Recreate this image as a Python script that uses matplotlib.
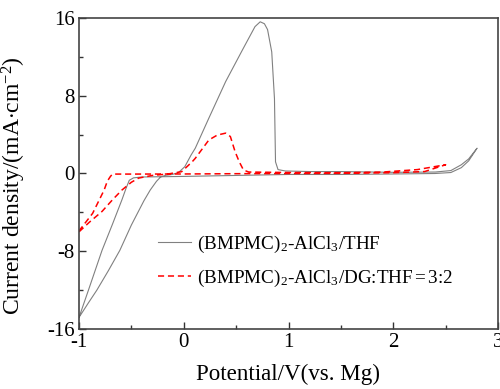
import matplotlib
matplotlib.use("Agg")
import matplotlib.pyplot as plt
from matplotlib.ticker import MultipleLocator

plt.rcParams['font.family'] = ['Liberation Serif', 'DejaVu Serif']
plt.rcParams['mathtext.fontset'] = 'custom'
plt.rcParams['mathtext.rm'] = 'Liberation Serif'
plt.rcParams['mathtext.it'] = 'Liberation Serif:italic'
plt.rcParams['axes.unicode_minus'] = False

# CV loop, (BMPMC)2-AlCl3/THF : forward sweep then back
thf_x = [-1.0, -0.91, -0.83, -0.72, -0.61, -0.50, -0.38, -0.32, -0.26, -0.22,
         -0.17, -0.11, -0.05, 0.01, 0.07, 0.11, 0.24, 0.40, 0.56, 0.68,
         0.73, 0.77, 0.80, 0.84, 0.866, 0.876, 0.90, 0.97, 1.2, 1.5,
         2.0, 2.4, 2.55, 2.65, 2.72, 2.8,
         2.72, 2.65, 2.55, 2.4, 2.0, 1.5, 1.0, 0.5, 0.0, -0.4,
         -0.48, -0.52, -0.55, -0.59, -0.68, -0.78, -0.91, -1.0]
thf_y = [-14.8, -13.3, -12.0, -10.0, -7.9, -5.3, -2.8, -1.7, -0.8, -0.35,
         -0.18, -0.1, 0.1, 0.7, 1.9, 2.6, 5.7, 9.45, 12.7, 15.1,
         15.6, 15.4, 14.8, 12.5, 7.7, 1.2, 0.4, 0.26, 0.2, 0.2,
         0.12, 0.15, 0.3, 0.9, 1.5, 2.6,
         1.3, 0.6, 0.1, 0.0, -0.05, -0.1, -0.1, -0.2, -0.3, -0.36,
         -0.45, -0.7, -1.5, -2.7, -5.2, -7.9, -12.0, -14.8]

# CV loop, (BMPMC)2-AlCl3/DG:THF = 3:2
dg_x = [-1.0, -0.9, -0.78, -0.68, -0.59, -0.5, -0.43, -0.3, -0.15, -0.02,
        0.08, 0.11, 0.24, 0.32, 0.40, 0.445, 0.49, 0.53, 0.57, 0.62,
        1.0, 1.5, 1.9, 2.23, 2.5,
        2.3, 2.0, 1.5, 1.0, 0.5, 0.0, -0.5, -0.68,
        -0.70, -0.73, -0.76, -0.87, -1.0]
dg_y = [-6.0, -5.0, -3.9, -2.7, -1.7, -0.9, -0.47, -0.2, -0.05, 0.19,
        1.2, 1.56, 3.45, 3.95, 4.15, 3.8, 2.25, 1.2, 0.36, 0.15,
        0.1, 0.08, 0.15, 0.4, 0.9,
        0.2, 0.08, 0.02, 0.0, -0.02, -0.05, -0.06, -0.06,
        -0.3, -0.8, -1.7, -4.1, -5.9]

fig = plt.figure(figsize=(5.0, 3.89), dpi=100)
ax = fig.add_axes([0.158, 0.154, 0.838, 0.8])

ax.plot(thf_x, thf_y, color='#808080', lw=0.8,
        label=r'(BMPMC)$_\mathregular{2}$-AlCl$_\mathregular{3}$/THF')
ax.plot(dg_x, dg_y, color='red', lw=1.1, ls=(0, (4, 2.5)),
        label=r'(BMPMC)$_\mathregular{2}$-AlCl$_\mathregular{3}$/DG:THF$\,$=$\,$3:2')

ax.set_xlim(-1, 3)
ax.set_ylim(-16, 16)
ax.xaxis.set_major_locator(MultipleLocator(1))
ax.xaxis.set_minor_locator(MultipleLocator(0.5))
ax.yaxis.set_major_locator(MultipleLocator(8))
ax.yaxis.set_minor_locator(MultipleLocator(4))
ax.tick_params(which='both', direction='in', labelsize=15, color='#333333',
               top=False, right=False)
ax.tick_params(which='major', length=5, width=1, pad=3)
ax.tick_params(which='minor', length=3, width=1)
for s in ax.spines.values():
    s.set_color('#444444')
    s.set_linewidth(1.2)

ax.set_xlabel('Potential/V(vs. Mg)', fontsize=16.6, labelpad=8)
ax.set_ylabel(r'Current density/(mA$\cdot$cm$^\mathregular{-2}$)', fontsize=17)
ax.yaxis.set_label_coords(-0.122, 0.46)

ax.legend(loc='center left', bbox_to_anchor=(0.189, 0.218), frameon=False,
          fontsize=13.8, borderpad=0, borderaxespad=0, handlelength=1.7,
          handletextpad=0.3, labelspacing=0.7)

fig.savefig('out.png', dpi=100)
